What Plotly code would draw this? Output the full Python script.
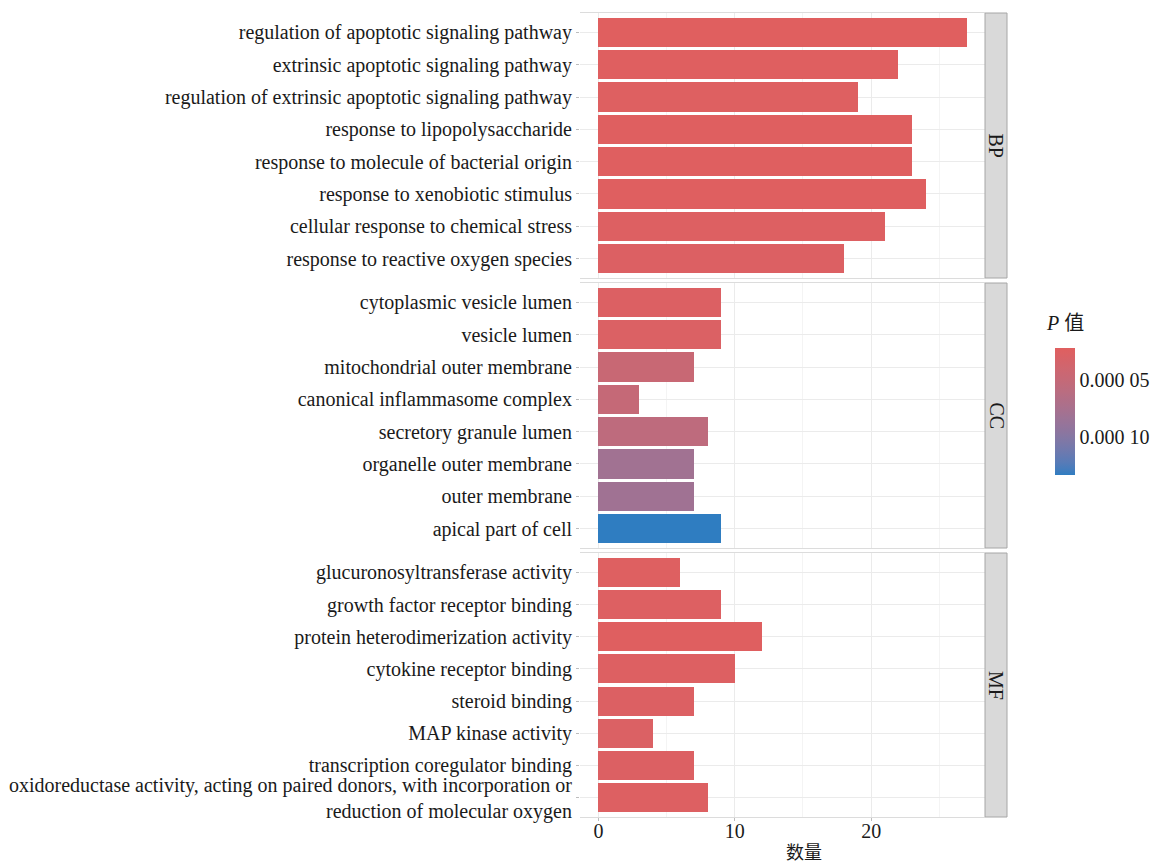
import plotly.graph_objects as go

# GO enrichment terms per ontology (top to bottom within each facet)
bp_terms = [
    "regulation of apoptotic signaling pathway",
    "extrinsic apoptotic signaling pathway",
    "regulation of extrinsic apoptotic signaling pathway",
    "response to lipopolysaccharide",
    "response to molecule of bacterial origin",
    "response to xenobiotic stimulus",
    "cellular response to chemical stress",
    "response to reactive oxygen species",
]
bp_counts = [27, 22, 19, 23, 23, 24, 21, 18]
bp_pvalues = [2.2e-5, 2.3e-5, 2.4e-5, 2.3e-5, 2.3e-5, 2.3e-5, 2.5e-5, 2.6e-5]

cc_terms = [
    "cytoplasmic vesicle lumen",
    "vesicle lumen",
    "mitochondrial outer membrane",
    "canonical inflammasome complex",
    "secretory granule lumen",
    "organelle outer membrane",
    "outer membrane",
    "apical part of cell",
]
cc_counts = [9, 9, 7, 3, 8, 7, 7, 9]
cc_pvalues = [2.6e-5, 2.8e-5, 4.6e-5, 5.0e-5, 5.6e-5, 8.0e-5, 8.1e-5, 1.33e-4]

mf_terms = [
    "glucuronosyltransferase activity",
    "growth factor receptor binding",
    "protein heterodimerization activity",
    "cytokine receptor binding",
    "steroid binding",
    "MAP kinase activity",
    "transcription coregulator binding",
    "oxidoreductase activity, acting on paired donors, with incorporation or<br>reduction of molecular oxygen",
]
mf_counts = [6, 9, 12, 10, 7, 4, 7, 8]
mf_pvalues = [2.4e-5, 2.5e-5, 2.3e-5, 2.5e-5, 2.6e-5, 2.7e-5, 2.6e-5, 2.5e-5]

facet_labels = ["BP", "CC", "MF"]
p_ticks = [5e-5, 1e-4]
p_ticktext = ["0.000 05", "0.000 10"]

W, H = 1152, 865
LOW_COLOR = (224, 95, 95)     # small p-values
HIGH_COLOR = (47, 125, 193)   # large p-values


# --- Lab-space gradient (like ggplot's scale_fill_gradient) ---
def _srgb_to_lin(c):
    c = c / 255.0
    return c / 12.92 if c <= 0.04045 else ((c + 0.055) / 1.055) ** 2.4


def _lin_to_srgb(c):
    c = max(0.0, min(1.0, c))
    v = 12.92 * c if c <= 0.0031308 else 1.055 * c ** (1 / 2.4) - 0.055
    return int(round(v * 255))


def rgb_to_lab(rgb):
    r, g, b = (_srgb_to_lin(v) for v in rgb)
    x = (0.4124 * r + 0.3576 * g + 0.1805 * b) / 0.95047
    y = (0.2126 * r + 0.7152 * g + 0.0722 * b) / 1.0
    z = (0.0193 * r + 0.1192 * g + 0.9505 * b) / 1.08883

    def f(t):
        return t ** (1 / 3) if t > 0.008856 else 7.787 * t + 16 / 116

    fx, fy, fz = f(x), f(y), f(z)
    return (116 * fy - 16, 500 * (fx - fy), 200 * (fy - fz))


def lab_to_rgb(lab):
    L, a, bb = lab
    fy = (L + 16) / 116
    fx = fy + a / 500
    fz = fy - bb / 200

    def finv(t):
        return t ** 3 if t ** 3 > 0.008856 else (t - 16 / 116) / 7.787

    x, y, z = finv(fx) * 0.95047, finv(fy), finv(fz) * 1.08883
    r = 3.2406 * x - 1.5372 * y - 0.4986 * z
    g = -0.9689 * x + 1.8758 * y + 0.0415 * z
    b = 0.0557 * x - 0.2040 * y + 1.0570 * z
    return (_lin_to_srgb(r), _lin_to_srgb(g), _lin_to_srgb(b))


lab_hi, lab_lo = rgb_to_lab(HIGH_COLOR), rgb_to_lab(LOW_COLOR)
n_stops = 21
colorscale = []
for i in range(n_stops):
    t = i / (n_stops - 1)
    lab = tuple(lab_hi[k] + (lab_lo[k] - lab_hi[k]) * t for k in range(3))
    r, g, b = lab_to_rgb(lab)
    colorscale.append([t, f"rgb({r},{g},{b})"])

all_p = bp_pvalues + cc_pvalues + mf_pvalues
p_min, p_max = min(all_p), max(all_p)

# panel geometry in pixels
panel_x0, panel_x1 = 580, 985
strip_x1 = 1007
panels_px = [(13, 278), (283, 548), (553, 817)]

SERIF = "Liberation Serif, Times New Roman, Noto Sans CJK SC, serif"
GRID = "#EBEBEB"
TEXT = "#1A1A1A"

fig = go.Figure()
facets = [
    (bp_terms, bp_counts, bp_pvalues),
    (cc_terms, cc_counts, cc_pvalues),
    (mf_terms, mf_counts, mf_pvalues),
]

layout_axes = {}
for i, ((terms, counts, pvals), (top, bot)) in enumerate(zip(facets, panels_px)):
    idx = "" if i == 0 else str(i + 1)
    # colour axis runs on -p so the smallest p-values sit at the top of the bar
    fig.add_trace(go.Bar(
        x=counts, y=terms, orientation="h", width=0.9,
        marker=dict(color=[-p for p in pvals], coloraxis="coloraxis", line=dict(width=0)),
        xaxis="x" + idx, yaxis="y" + idx,
        hovertemplate="%{y}<br>数量: %{x}<extra></extra>",
    ))
    ydom = [1 - bot / H, 1 - top / H]
    layout_axes["xaxis" + idx] = dict(
        domain=[panel_x0 / W, panel_x1 / W], anchor="y" + idx,
        range=[-1.35, 28.35], tickvals=[0, 10, 20],
        showticklabels=(i == 2), ticks="outside" if i == 2 else "",
        ticklen=3, tickcolor="#BDBDBD",
        ticklabelstandoff=-7 if i == 2 else 0,
        showgrid=True, gridcolor=GRID, gridwidth=1,
        minor=dict(tickvals=[5, 15, 25], showgrid=True, gridcolor="#F4F4F4", gridwidth=1),
        showline=True, mirror=True, linecolor="#DCDCDC", linewidth=1,
        zeroline=False, automargin=False,
        tickfont=dict(family=SERIF, size=20, color=TEXT),
    )
    layout_axes["yaxis" + idx] = dict(
        domain=ydom, anchor="x" + idx, type="category",
        categoryorder="array", categoryarray=terms,
        range=[7.6, -0.6], automargin=False,
        showgrid=True, gridcolor=GRID, gridwidth=1,
        ticks="outside", ticklen=3, tickcolor="#BDBDBD",
        showline=False, zeroline=False,
        tickfont=dict(family=SERIF, size=20, color=TEXT),
    )
    # facet strip on the right
    fig.add_shape(type="rect", xref="paper", yref="paper",
                  x0=panel_x1 / W, x1=strip_x1 / W, y0=ydom[0], y1=ydom[1],
                  fillcolor="#D9D9D9", line=dict(color="#A6A6A6", width=1), layer="above")
    fig.add_annotation(x=(panel_x1 + strip_x1) / 2 / W, y=(ydom[0] + ydom[1]) / 2,
                       xref="paper", yref="paper", text=facet_labels[i], textangle=90,
                       xanchor="center", yanchor="middle",
                       showarrow=False, font=dict(family=SERIF, size=20, color=TEXT))

# x-axis title
fig.add_annotation(x=804 / W, y=1 - 853 / H, xref="paper", yref="paper", text="数量",
                   xanchor="center", yanchor="middle",
                   showarrow=False, font=dict(family=SERIF, size=18, color=TEXT))
# colour legend title
fig.add_annotation(x=1044 / W, y=1 - 323 / H, xref="paper", yref="paper",
                   text="<i>P</i> 值", xanchor="left", yanchor="middle", showarrow=False,
                   font=dict(family=SERIF, size=20, color=TEXT))

fig.update_layout(
    width=W, height=H,
    margin=dict(l=0, r=0, t=0, b=0, autoexpand=False),
    paper_bgcolor="white", plot_bgcolor="white",
    showlegend=False, bargap=0,
    coloraxis=dict(
        colorscale=colorscale, cmin=-p_max, cmax=-p_min,
        colorbar=dict(
            x=1055 / W, xanchor="left", y=1 - 411.5 / H, yanchor="middle",
            len=127 / H, lenmode="fraction", thickness=20, thicknessmode="pixels",
            xpad=0, ypad=0,
            outlinewidth=0, ticks="", ticklabelposition="outside",
            tickvals=[-v for v in p_ticks], ticktext=p_ticktext,
            tickfont=dict(family=SERIF, size=20, color=TEXT),
        ),
    ),
    **layout_axes,
)

fig.write_html("out.html")
